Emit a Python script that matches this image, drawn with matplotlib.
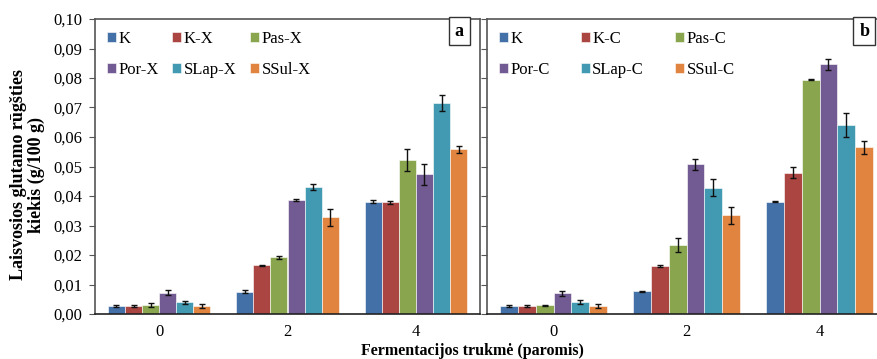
import matplotlib
matplotlib.use("Agg")
import matplotlib.pyplot as plt
import numpy as np

plt.rcParams['font.family'] = ['Liberation Serif', 'DejaVu Serif']

days = ["0", "2", "4"]
y_ticks = [0.00, 0.01, 0.02, 0.03, 0.04, 0.05, 0.06, 0.07, 0.08, 0.09, 0.10]

# Panel a: xylose-related samples
labels_a = ["K", "K-X", "Pas-X", "Por-X", "SLap-X", "SSul-X"]
vals_a = {
    "K":      [0.0028, 0.0076, 0.0381],
    "K-X":    [0.0028, 0.0165, 0.0378],
    "Pas-X":  [0.0031, 0.0193, 0.0521],
    "Por-X":  [0.0072, 0.0387, 0.0473],
    "SLap-X": [0.0039, 0.0430, 0.0714],
    "SSul-X": [0.0028, 0.0328, 0.0558],
}
err_a = {
    "K":      [0.0003, 0.0004, 0.0004],
    "K-X":    [0.0003, 0.0002, 0.0006],
    "Pas-X":  [0.0006, 0.0005, 0.0037],
    "Por-X":  [0.0008, 0.0004, 0.0035],
    "SLap-X": [0.0005, 0.0011, 0.0027],
    "SSul-X": [0.0007, 0.0028, 0.0013],
}

# Panel b: C-series samples
labels_b = ["K", "K-C", "Pas-C", "Por-C", "SLap-C", "SSul-C"]
vals_b = {
    "K":      [0.0026, 0.0077, 0.0381],
    "K-C":    [0.0026, 0.0163, 0.0479],
    "Pas-C":  [0.0029, 0.0233, 0.0794],
    "Por-C":  [0.0070, 0.0507, 0.0846],
    "SLap-C": [0.0040, 0.0428, 0.0642],
    "SSul-C": [0.0026, 0.0334, 0.0565],
}
err_b = {
    "K":      [0.0003, 0.0002, 0.0003],
    "K-C":    [0.0003, 0.0002, 0.0019],
    "Pas-C":  [0.0002, 0.0024, 0.0002],
    "Por-C":  [0.0008, 0.0019, 0.0018],
    "SLap-C": [0.0006, 0.0029, 0.0041],
    "SSul-C": [0.0007, 0.0029, 0.0022],
}

colors = ["#4470A8", "#AA4542", "#89A64E", "#725A92", "#4299B2", "#E0843F"]
frame_color = "#555555"

fig = plt.figure(figsize=(8.77, 3.59), dpi=100)
ax_a = fig.add_axes([95 / 877, 1 - 314 / 359, 385 / 877, 295 / 359])
ax_b = fig.add_axes([487 / 877, 1 - 314 / 359, 399 / 877, 295 / 359])


def draw_panel(ax, labels, vals, errs, tag, colspacing, show_yticks):
    x = np.arange(len(days))
    n = len(labels)
    width = 0.8 / n
    handles = []
    for i, lab in enumerate(labels):
        pos = x - 0.4 + width * (i + 0.5)
        h = ax.bar(pos, vals[lab], width, color=colors[i], label=lab,
                   edgecolor="white", linewidth=0.4, zorder=2)
        handles.append(h)
        ax.errorbar(pos, vals[lab], yerr=errs[lab], fmt="none",
                    ecolor="#111111", elinewidth=1.0, capsize=2.5,
                    capthick=1.0, zorder=3)
    ax.set_xlim(-0.5, len(days) - 0.5)
    ax.set_ylim(0, 0.10)
    ax.set_xticks(x)
    ax.set_xticklabels(days, fontsize=12)
    ax.tick_params(axis="x", length=0, pad=7)
    ax.set_yticks(y_ticks)
    if show_yticks:
        ax.set_yticklabels([f"{v:.2f}".replace(".", ",") for v in y_ticks],
                           fontsize=12)
    else:
        ax.set_yticklabels([])
    ax.tick_params(axis="y", direction="out", length=4, width=0.8,
                   color=frame_color, pad=5)
    for side in ["top", "right", "left"]:
        ax.spines[side].set_color(frame_color)
        ax.spines[side].set_linewidth(1.2)
    ax.spines["bottom"].set_color("#222222")
    ax.spines["bottom"].set_linewidth(1.2)

    # legend fills row by row: K, K-x, Pas-x on the first line
    order = [0, 3, 1, 4, 2, 5]
    ax.legend([handles[k] for k in order], [labels[k] for k in order],
              ncol=3, loc="upper left", bbox_to_anchor=(0.0, 1.0),
              frameon=False, fontsize=12, handlelength=0.55,
              handleheight=0.55, handletextpad=0.15,
              columnspacing=colspacing, labelspacing=0.9,
              borderaxespad=0.3)
    ax.text(0.958, 0.988, tag, transform=ax.transAxes, fontsize=13,
            fontweight="bold", ha="right", va="top",
            bbox=dict(boxstyle="square,pad=0.32", facecolor="white",
                      edgecolor="#333333", linewidth=1.0))


draw_panel(ax_a, labels_a, vals_a, err_a, "a", 0.8, True)
draw_panel(ax_b, labels_b, vals_b, err_b, "b", 1.85, False)

fig.text(0.031, 1 - 175 / 359, "Laisvosios glutamo rūgšties\nkiekis (g/100 g)",
         rotation=90, ha="center", va="center", fontsize=13,
         fontweight="bold", linespacing=1.05)
fig.text(472 / 877, 1 - 351 / 359, "Fermentacijos trukmė (paromis)",
         ha="center", va="center", fontsize=11.5, fontweight="bold")

fig.savefig("out.png", dpi=100, facecolor="white")
